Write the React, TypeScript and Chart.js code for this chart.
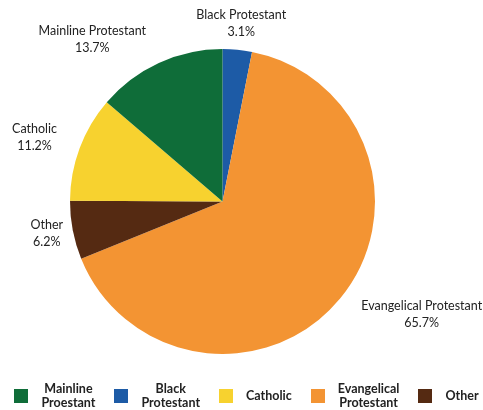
import { useEffect, useRef } from "react";
import { Chart, registerables } from "chart.js";

Chart.register(...registerables);

// Data (pie order, clockwise from 12 o'clock)
const CATEGORIES = ["Black Protestant", "Evangelical Protestant", "Other", "Catholic", "Mainline Protestant"];
const VALUES = [3.1, 65.7, 6.2, 11.2, 13.7];
const COLORS = ["#1d5ba6", "#f39433", "#552a12", "#f7d22f", "#0f6d39"];

// Legend (its own order and wording)
const LEGEND_ORDER = [4, 0, 3, 1, 2];
const LEGEND_TEXT = [["Black", "Protestant"], ["Evangelical", "Protestant"], ["Other"], ["Catholic"], ["Mainline", "Proestant"]];

const FONT = "Lato, 'Open Sans', sans-serif";
const TEXT_COLOR = "#222222";

const sliceLabels = {
  id: "sliceLabels",
  afterDatasetsDraw(chart: any, _args: any, opts: any) {
    const meta = chart.getDatasetMeta(0);
    const ctx = chart.ctx as CanvasRenderingContext2D;
    ctx.save();
    ctx.font = `12.5px ${FONT}`;
    ctx.fillStyle = TEXT_COLOR;
    ctx.textAlign = "center";
    ctx.textBaseline = "middle";
    meta.data.forEach((arc: any, i: number) => {
      const p = arc.getProps(["x", "y", "startAngle", "endAngle", "outerRadius"], true);
      const mid = (p.startAngle + p.endAngle) / 2;
      const r = p.outerRadius + opts.offset;
      const [nx, ny] = opts.nudges[i] || [0, 0];
      const cx = p.x + Math.cos(mid) * r + nx;
      const cy = p.y + Math.sin(mid) * r + ny;
      ctx.fillText(CATEGORIES[i], cx, cy - 8.5);
      ctx.fillText(VALUES[i].toFixed(1) + "%", cx, cy + 8.5);
    });
    ctx.restore();
  },
};

const bottomLegend = {
  id: "bottomLegend",
  afterDraw(chart: any, _args: any, opts: any) {
    const ctx = chart.ctx as CanvasRenderingContext2D;
    const ds = chart.data.datasets[0];
    ctx.save();
    ctx.font = `bold 12.5px ${FONT}`;
    const box = opts.boxSize;
    const items = LEGEND_ORDER.map((i) => {
      const lines = LEGEND_TEXT[i];
      const tw = Math.max(...lines.map((l) => ctx.measureText(l).width));
      return { i, lines, tw, w: box + opts.boxGap + tw };
    });
    const total = items.reduce((s, it) => s + it.w, 0) + opts.itemGap * (items.length - 1);
    let x = opts.centerX - total / 2;
    const cy = opts.y;
    ctx.textAlign = "center";
    ctx.textBaseline = "middle";
    items.forEach((it) => {
      ctx.fillStyle = ds.backgroundColor[it.i];
      ctx.fillRect(Math.round(x), Math.round(cy - box / 2), box, box);
      ctx.fillStyle = TEXT_COLOR;
      const tx = x + box + opts.boxGap + it.tw / 2;
      const n = it.lines.length;
      it.lines.forEach((l: string, k: number) => {
        ctx.fillText(l, tx, cy + (k - (n - 1) / 2) * opts.lineHeight);
      });
      x += it.w + opts.itemGap;
    });
    ctx.restore();
  },
};

export default function App() {
  const ref = useRef<HTMLCanvasElement>(null);
  useEffect(() => {
    document.body.style.margin = "0";
    if (!ref.current) return;
    const chart = new Chart(ref.current, {
      type: "pie",
      data: {
        labels: CATEGORIES,
        datasets: [
          {
            data: VALUES,
            backgroundColor: COLORS,
            borderWidth: 0,
          },
        ],
      },
      options: {
        responsive: false,
        animation: false,
        layout: { padding: { left: 70, right: 108, top: 49, bottom: 56 } },
        plugins: {
          legend: { display: false },
          tooltip: { enabled: false },
          sliceLabels: {
            offset: 30,
            nudges: [
              [1, 3.5],
              [58.5, -3],
              [3.5, -3],
              [-17, 0],
              [-54, 3.5],
            ],
          },
          bottomLegend: { centerX: 246.5, y: 396, boxSize: 14, boxGap: 13, itemGap: 19, lineHeight: 14 },
        } as any,
      },
      plugins: [sliceLabels, bottomLegend],
    });
    return () => chart.destroy();
  }, []);
  return (
    <div style={{ width: 483, height: 410, background: "#ffffff" }}>
      <canvas ref={ref} width={483} height={410} style={{ display: "block" }} />
    </div>
  );
}
